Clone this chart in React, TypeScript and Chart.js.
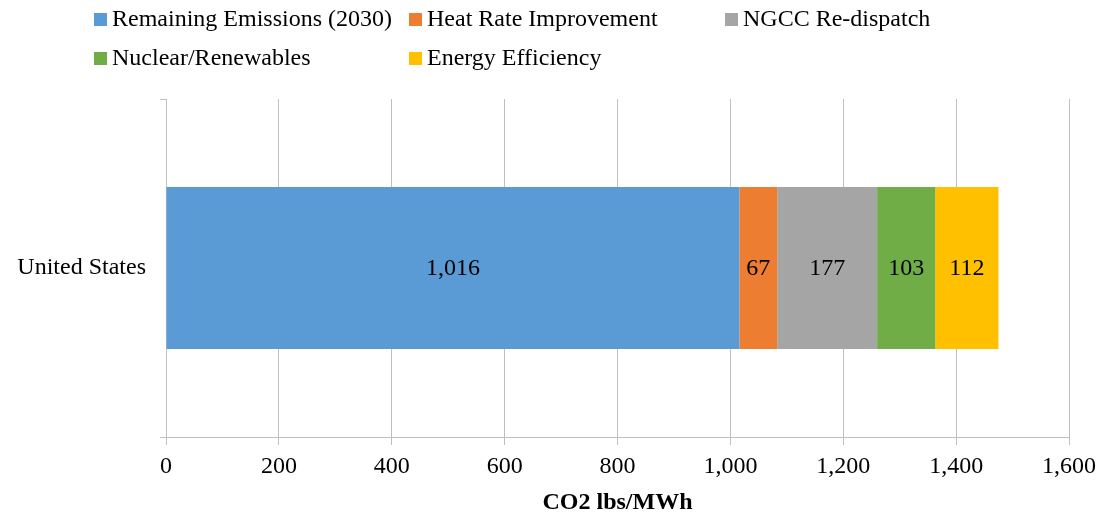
import React, { useEffect, useRef } from "react";
import { Chart, registerables } from "chart.js";

Chart.register(...registerables);

const categories = ["United States"];
const seriesNames = [
  "Remaining Emissions (2030)",
  "Heat Rate Improvement",
  "NGCC Re-dispatch",
  "Nuclear/Renewables",
  "Energy Efficiency",
];
const remaining = [1016];
const heatRate = [67];
const ngcc = [177];
const nuclear = [103];
const efficiency = [112];
const colors = ["#5B9BD5", "#ED7D31", "#A5A5A5", "#70AD47", "#FFC000"];
const axisTitle = "CO2 lbs/MWh";

const FONT = "'Liberation Serif', 'Times New Roman', serif";
const FS = 24;

const legendPlugin = {
  id: "gridLegend",
  afterDraw(chart: any) {
    const ctx = chart.ctx;
    const cols = [94, 409, 725];
    const rows = [19, 58];
    ctx.save();
    ctx.font = `${FS}px ${FONT}`;
    ctx.textBaseline = "middle";
    ctx.textAlign = "left";
    chart.data.datasets.forEach((ds: any, i: number) => {
      const c = cols[i % 3];
      const r = rows[Math.floor(i / 3)];
      ctx.fillStyle = ds.backgroundColor;
      ctx.fillRect(c, r - 6, 13, 13);
      ctx.fillStyle = "#000";
      ctx.fillText(ds.label, c + 18, r + 1);
    });
    ctx.restore();
  },
};

const dataLabelPlugin = {
  id: "segLabels",
  afterDatasetsDraw(chart: any) {
    const ctx = chart.ctx;
    ctx.save();
    ctx.font = `${FS}px ${FONT}`;
    ctx.fillStyle = "#000";
    ctx.textAlign = "center";
    ctx.textBaseline = "middle";
    chart.data.datasets.forEach((ds: any, i: number) => {
      const meta = chart.getDatasetMeta(i);
      meta.data.forEach((bar: any, j: number) => {
        const v = ds.data[j];
        const cx = (bar.x + bar.base) / 2;
        ctx.fillText(v.toLocaleString("en-US"), cx, bar.y + 1);
      });
    });
    ctx.restore();
  },
};

export default function App() {
  const ref = useRef<HTMLCanvasElement>(null);
  useEffect(() => {
    document.body.style.margin = "0";
    const series = [remaining, heatRate, ngcc, nuclear, efficiency];
    const chart = new Chart(ref.current!, {
      type: "bar",
      data: {
        labels: categories,
        datasets: series.map((d, i) => ({
          label: seriesNames[i],
          data: d,
          backgroundColor: colors[i],
          borderWidth: 0,
          categoryPercentage: 1,
          barPercentage: 0.48,
        })),
      },
      options: {
        indexAxis: "y",
        animation: false,
        responsive: false,
        maintainAspectRatio: false,
        layout: { padding: { top: 99, right: 29, left: 0, bottom: 0 } },
        plugins: { legend: { display: false }, tooltip: { enabled: false } },
        scales: {
          x: {
            stacked: true,
            min: 0,
            max: 1600,
            ticks: {
              stepSize: 200,
              color: "#000",
              font: { family: FONT, size: FS },
              padding: 7,
              callback: (v: any) => Number(v).toLocaleString("en-US"),
              maxRotation: 0,
            },
            grid: { color: "#BFBFBF", lineWidth: 1, tickLength: 8 },
            border: { color: "#BFBFBF" },
            title: {
              display: true,
              text: axisTitle,
              color: "#000",
              font: { family: FONT, size: FS, weight: "bold" },
              padding: { top: 0, bottom: -3 },
            },
            afterFit: (s: any) => {
              s.height = 77;
              s.paddingLeft = 0;
              s.paddingRight = 0;
            },
          },
          y: {
            stacked: true,
            offset: true,
            ticks: {
              color: "#000",
              font: { family: FONT, size: FS },
              padding: 14,
            },
            grid: {
              offset: true,
              drawOnChartArea: false,
              color: "#BFBFBF",
              tickLength: 6,
            },
            border: { color: "#BFBFBF" },
            afterFit: (s: any) => {
              s.width = 166;
              s.paddingTop = 0;
              s.paddingBottom = 0;
            },
          },
        },
      },
      plugins: [legendPlugin, dataLabelPlugin],
    });
    return () => chart.destroy();
  }, []);
  return (
    <div style={{ position: "fixed", left: 0, top: 0, width: 1098, height: 514, background: "#fff" }}>
      <canvas ref={ref} width={1098} height={514} />
    </div>
  );
}
